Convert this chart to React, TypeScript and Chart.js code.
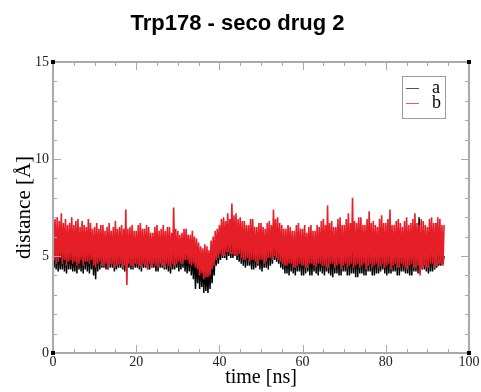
import React, { useEffect, useRef } from "react";
import { Chart, registerables } from "chart.js";

Chart.register(...registerables);

const TITLE = "Trp178 - seco drug 2";
const X_TITLE = "time [ns]";
const Y_TITLE = "distance [Å]";
const X_TICKS = [0, 20, 40, 60, 80, 100];
const Y_TICKS = [0, 5, 10, 15];
const X_MINOR_STEP = 5;
const Y_MINOR_STEP = 1;
const SERIES_NAMES = ["a", "b"];
const SERIES_COLORS = ["#000000", "#e61e28"];
const T_START = 0;
const T_STEP = 0.25;

// series a (black), sampled every 0.25 ns from 0 to 94 ns (one row = 10 ns)
const A_VALUES = [
  5.6, 4.4, 5.9, 4.3, 5.9, 4.2, 5.7, 4.3, 5.7, 4.3, 6.0, 4.2, 6.0, 4.1, 5.8, 4.3, 5.8, 4.3, 5.6, 4.2,
  5.6, 4.2, 5.9, 4.1, 5.9, 4.3, 5.7, 4.2, 5.7, 4.1, 6.0, 4.3, 6.0, 4.2, 5.8, 4.1, 5.8, 4.3, 5.6, 4.0,
  5.7, 3.8, 5.9, 4.2, 5.9, 4.3, 5.7, 4.4, 5.6, 4.4, 5.8, 4.3, 5.8, 4.3, 6.0, 4.4, 5.9, 4.4, 5.7, 4.2,
  5.7, 4.3, 5.9, 4.4, 6.0, 4.4, 5.8, 4.3, 5.8, 4.2, 5.6, 4.4, 5.6, 4.4, 5.9, 4.3, 5.9, 4.3, 5.7, 4.4,
  5.7, 4.4, 6.0, 4.3, 6.0, 4.2, 5.8, 4.4, 5.8, 4.4, 5.6, 4.3, 5.6, 4.3, 5.9, 4.4, 5.9, 4.4, 5.7, 4.2,
  5.7, 4.2, 5.9, 4.4, 5.8, 4.4, 6.0, 4.3, 6.0, 4.3, 5.7, 4.2, 5.6, 4.1, 5.8, 4.3, 5.9, 4.3, 5.7, 4.4,
  5.7, 4.2, 5.9, 4.3, 5.8, 4.4, 5.6, 4.2, 5.5, 4.1, 5.7, 4.2, 5.6, 4.0, 5.4, 3.8, 5.4, 3.3, 5.3, 3.6,
  5.2, 3.3, 5.0, 3.4, 4.8, 3.1, 4.9, 3.2, 4.6, 3.1, 4.8, 3.3, 5.0, 3.6, 5.3, 4.0, 5.6, 4.5, 5.8, 4.6,
  5.9, 4.8, 6.1, 4.9, 6.2, 4.9, 6.0, 4.8, 6.4, 5.0, 6.2, 4.9, 6.3, 4.9, 6.1, 5.0, 6.1, 4.8, 6.3, 4.7,
  6.0, 4.6, 5.9, 4.5, 5.9, 4.4, 6.1, 4.5, 6.1, 4.5, 5.8, 4.3, 5.8, 4.3, 6.0, 4.4, 6.0, 4.5, 5.9, 4.3,
  5.9, 4.2, 6.1, 4.4, 6.0, 4.4, 5.8, 4.3, 6.2, 4.5, 6.0, 4.6, 6.3, 4.8, 6.1, 4.7, 6.1, 4.6, 5.9, 4.4,
  5.9, 4.3, 6.0, 4.1, 5.8, 4.1, 5.9, 4.0, 6.0, 4.2, 5.7, 4.1, 5.7, 4.0, 5.9, 4.2, 5.9, 4.2, 5.8, 4.0,
  5.8, 4.0, 6.0, 4.1, 6.0, 4.2, 5.8, 4.0, 5.7, 4.0, 5.9, 4.2, 5.9, 4.1, 5.7, 4.0, 5.8, 4.2, 6.0, 4.1,
  6.0, 4.0, 5.8, 4.2, 5.9, 4.1, 6.1, 4.0, 5.7, 3.9, 5.9, 4.1, 6.0, 4.1, 5.8, 4.0, 5.8, 4.0, 6.0, 4.2,
  5.9, 4.2, 5.7, 4.0, 6.1, 4.0, 5.9, 4.1, 5.8, 4.1, 6.0, 3.9, 6.0, 3.9, 5.8, 4.1, 5.7, 4.1, 5.9, 4.0,
  5.9, 4.0, 6.1, 4.2, 6.1, 4.2, 5.8, 4.0, 5.8, 4.0, 6.0, 4.1, 6.0, 4.1, 5.7, 4.2, 5.9, 4.3, 6.0, 4.1,
  5.7, 4.0, 5.9, 4.1, 6.0, 4.1, 5.8, 4.2, 5.8, 4.2, 6.0, 4.0, 6.1, 4.0, 5.9, 4.2, 5.9, 4.2, 5.7, 4.1,
  6.0, 4.1, 5.8, 4.0, 5.8, 4.0, 6.1, 4.2, 6.2, 4.2, 6.0, 4.1, 7.0, 4.1, 6.2, 4.3, 5.9, 4.3, 6.0, 4.2,
  6.0, 4.1, 5.8, 4.2, 5.8, 4.2, 6.0, 4.3, 6.7, 4.4, 6.1, 4.5, 6.0, 4.5, 5.9, 4.6, 5.0,
];

// series b (red), sampled every 0.25 ns from 0 to 94 ns (one row = 10 ns)
const B_VALUES = [
  7.3, 4.8, 6.9, 4.6, 7.0, 4.7, 6.8, 4.9, 7.2, 4.6, 6.7, 4.8, 6.9, 4.5, 6.6, 4.7, 6.7, 4.8, 7.0, 4.6,
  6.6, 4.7, 6.8, 4.5, 6.9, 4.6, 6.5, 4.8, 6.8, 4.5, 6.6, 4.7, 6.5, 4.7, 6.9, 4.6, 6.7, 4.8, 6.4, 4.5,
  6.5, 4.4, 6.7, 4.6, 6.4, 4.7, 6.6, 4.5, 6.6, 4.5, 6.3, 4.6, 6.5, 4.3, 6.7, 4.6, 6.3, 4.6, 6.5, 4.4,
  6.8, 4.5, 6.4, 4.6, 6.5, 4.6, 6.6, 4.4, 6.4, 4.5, 7.4, 3.5, 6.4, 4.6, 6.5, 4.5, 6.6, 4.4, 6.3, 4.6,
  6.3, 4.6, 6.6, 4.5, 6.7, 4.4, 6.4, 4.6, 6.4, 4.5, 6.6, 4.3, 6.5, 4.6, 6.2, 4.4, 6.2, 4.6, 6.5, 4.5,
  6.6, 4.4, 6.3, 4.6, 6.4, 4.5, 6.6, 4.4, 6.3, 4.6, 6.5, 4.5, 6.5, 4.4, 6.2, 4.6, 7.5, 4.5, 6.4, 4.6,
  6.3, 4.7, 6.1, 4.6, 6.2, 4.6, 6.4, 4.8, 6.4, 4.8, 6.1, 4.6, 6.1, 4.5, 6.3, 4.6, 6.0, 4.4, 5.9, 4.3,
  5.7, 4.0, 5.5, 4.1, 5.4, 3.8, 5.6, 3.9, 5.5, 3.9, 5.3, 4.0, 5.8, 4.3, 6.0, 4.5, 6.3, 4.8, 6.4, 4.9,
  6.6, 5.1, 6.9, 5.0, 7.0, 5.0, 6.8, 5.2, 7.2, 5.2, 6.9, 5.1, 7.7, 5.1, 7.1, 5.0, 7.2, 5.0, 6.9, 5.1,
  7.0, 4.9, 6.8, 4.8, 6.8, 4.8, 6.6, 4.9, 6.6, 4.7, 6.9, 4.8, 6.9, 4.8, 6.5, 4.7, 6.5, 4.6, 6.7, 4.8,
  6.7, 4.8, 6.5, 4.6, 6.4, 4.7, 6.7, 4.9, 6.8, 4.9, 6.6, 4.8, 7.4, 5.0, 6.9, 4.9, 7.0, 4.8, 6.7, 4.7,
  6.6, 4.6, 6.4, 4.5, 6.4, 4.5, 6.6, 4.6, 6.5, 4.6, 6.3, 4.4, 6.3, 4.4, 6.6, 4.5, 6.7, 4.6, 6.4, 4.5,
  6.4, 4.5, 6.6, 4.4, 6.2, 4.4, 6.5, 4.6, 6.6, 4.6, 6.3, 4.5, 6.3, 4.4, 6.6, 4.6, 6.5, 4.6, 6.8, 4.5,
  6.9, 4.5, 6.6, 4.4, 7.6, 4.4, 6.7, 4.6, 6.8, 4.6, 6.5, 4.4, 6.5, 4.5, 6.9, 4.6, 7.0, 4.3, 6.6, 4.5,
  6.6, 4.6, 6.9, 4.4, 7.2, 4.5, 6.7, 4.6, 8.0, 4.4, 6.8, 4.5, 6.7, 4.6, 7.0, 4.4, 7.0, 4.5, 6.6, 4.6,
  6.6, 4.3, 6.9, 4.5, 7.3, 4.6, 6.7, 4.4, 6.8, 4.5, 6.6, 4.6, 6.5, 4.4, 6.9, 4.5, 7.1, 4.6, 6.7, 4.4,
  6.7, 4.5, 6.9, 4.6, 7.4, 4.3, 6.6, 4.5, 6.6, 4.6, 6.8, 4.4, 6.9, 4.4, 6.7, 4.6, 6.5, 4.5, 6.8, 4.4,
  7.0, 4.3, 6.6, 4.5, 6.7, 4.6, 6.9, 4.4, 7.2, 4.4, 6.7, 4.5, 6.6, 4.0, 6.9, 4.3, 6.8, 4.5, 6.6, 4.4,
  6.5, 4.4, 6.9, 4.6, 7.0, 4.6, 6.7, 4.4, 6.7, 4.5, 7.0, 4.6, 6.9, 4.6, 6.6, 4.5, 6.6,
];

const SERIF = "'Liberation Serif', 'DejaVu Serif', serif";
const SANS = "'Liberation Sans', Arial, sans-serif";
const FRAME_COLOR = "#a9a9a9";

const toPoints = (vals: number[]) =>
  vals.map((v, i) => ({ x: T_START + i * T_STEP, y: v }));

const framePlugin = {
  id: "xmgraceFrame",
  afterDraw(chart: any) {
    const { ctx, chartArea } = chart;
    const { left, right, top, bottom } = chartArea;
    const xs = chart.scales.x;
    const ys = chart.scales.y;
    ctx.save();
    // frame
    ctx.strokeStyle = FRAME_COLOR;
    ctx.lineWidth = 2;
    ctx.strokeRect(left, top, right - left, bottom - top);
    // inward ticks
    ctx.lineWidth = 1;
    ctx.beginPath();
    for (let v = xs.min; v <= xs.max + 1e-9; v += X_MINOR_STEP) {
      const major = X_TICKS.includes(v);
      const len = major ? 8 : 4;
      const px = Math.round(xs.getPixelForValue(v)) + 0.5;
      ctx.moveTo(px, bottom);
      ctx.lineTo(px, bottom - len);
      ctx.moveTo(px, top);
      ctx.lineTo(px, top + len);
    }
    for (let v = ys.min; v <= ys.max + 1e-9; v += Y_MINOR_STEP) {
      const major = Y_TICKS.includes(v);
      const len = major ? 8 : 4;
      const py = Math.round(ys.getPixelForValue(v)) + 0.5;
      ctx.moveTo(left, py);
      ctx.lineTo(left + len, py);
      ctx.moveTo(right, py);
      ctx.lineTo(right - len, py);
    }
    ctx.stroke();
    // corner markers
    ctx.fillStyle = "#000";
    [
      [left, top],
      [right, top],
      [left, bottom],
      [right, bottom],
    ].forEach(([cx, cy]) => ctx.fillRect(cx - 2, cy - 2, 4, 4));

    // legend box
    const bx = right - 67;
    const by = top + 14;
    const bw = 43;
    const bh = 42;
    ctx.fillStyle = "#fff";
    ctx.fillRect(bx, by, bw, bh);
    ctx.strokeStyle = "#9a9a9a";
    ctx.lineWidth = 1;
    ctx.strokeRect(bx + 0.5, by + 0.5, bw, bh);
    ctx.font = `18px ${SERIF}`;
    ctx.textAlign = "left";
    ctx.textBaseline = "alphabetic";
    SERIES_NAMES.forEach((name, i) => {
      const ly = by + 12 + i * 15;
      ctx.strokeStyle = i === 0 ? "#555" : "#ee5a5a";
      ctx.beginPath();
      ctx.moveTo(bx + 4, ly + 0.5);
      ctx.lineTo(bx + 17, ly + 0.5);
      ctx.stroke();
      ctx.fillStyle = "#000";
      ctx.fillText(name, bx + 30, ly + 5);
    });
    ctx.restore();
  },
};

export default function App() {
  const ref = useRef<HTMLCanvasElement>(null);

  useEffect(() => {
    const canvas = ref.current;
    if (!canvas) return;
    const chart = new Chart(canvas, {
      type: "line",
      data: {
        datasets: [
          {
            label: SERIES_NAMES[0],
            data: toPoints(A_VALUES),
            borderColor: SERIES_COLORS[0],
            backgroundColor: SERIES_COLORS[0],
            borderWidth: 1.5,
            pointRadius: 0,
            tension: 0,
            order: 1,
          },
          {
            label: SERIES_NAMES[1],
            data: toPoints(B_VALUES),
            borderColor: SERIES_COLORS[1],
            backgroundColor: SERIES_COLORS[1],
            borderWidth: 1.6,
            pointRadius: 0,
            tension: 0,
            order: 0,
          },
        ],
      },
      options: {
        responsive: false,
        animation: false,
        events: [],
        layout: { padding: { left: 0, right: 6, top: 0, bottom: 0 } },
        plugins: {
          legend: { display: false },
          tooltip: { enabled: false },
          title: {
            display: true,
            text: TITLE,
            color: "#000",
            font: { family: SANS, size: 22, weight: "bold" },
            padding: { top: 11, bottom: 24.6 },
          },
        },
        scales: {
          x: {
            type: "linear",
            min: 0,
            max: 100,
            grid: { display: false, drawTicks: false },
            border: { display: false },
            afterBuildTicks: (s: any) => {
              s.ticks = X_TICKS.map((v) => ({ value: v }));
            },
            afterFit: (s: any) => {
              s.height = 39;
              s.paddingLeft = 0;
              s.paddingRight = 12;
            },
            ticks: {
              color: "#222",
              padding: 1,
              maxRotation: 0,
              autoSkip: false,
              font: { family: SERIF, size: 14 },
            },
            title: {
              display: true,
              text: X_TITLE,
              color: "#000",
              font: { family: SERIF, size: 20 },
              padding: { top: 0, bottom: 2 },
            },
          },
          y: {
            type: "linear",
            min: 0,
            max: 15,
            grid: { display: false, drawTicks: false },
            border: { display: false },
            afterBuildTicks: (s: any) => {
              s.ticks = Y_TICKS.map((v) => ({ value: v }));
            },
            afterFit: (s: any) => {
              s.width = 53;
            },
            ticks: {
              color: "#222",
              padding: 4,
              autoSkip: false,
              font: { family: SERIF, size: 14 },
            },
            title: {
              display: true,
              text: Y_TITLE,
              color: "#000",
              font: { family: SERIF, size: 21 },
              padding: { top: 12, bottom: 0 },
            },
          },
        },
      },
      plugins: [framePlugin],
    });
    return () => chart.destroy();
  }, []);

  return (
    <div style={{ position: "absolute", left: 0, top: 0, width: 481, height: 392, background: "#fff" }}>
      <canvas ref={ref} width={481} height={392} style={{ display: "block" }} />
    </div>
  );
}
